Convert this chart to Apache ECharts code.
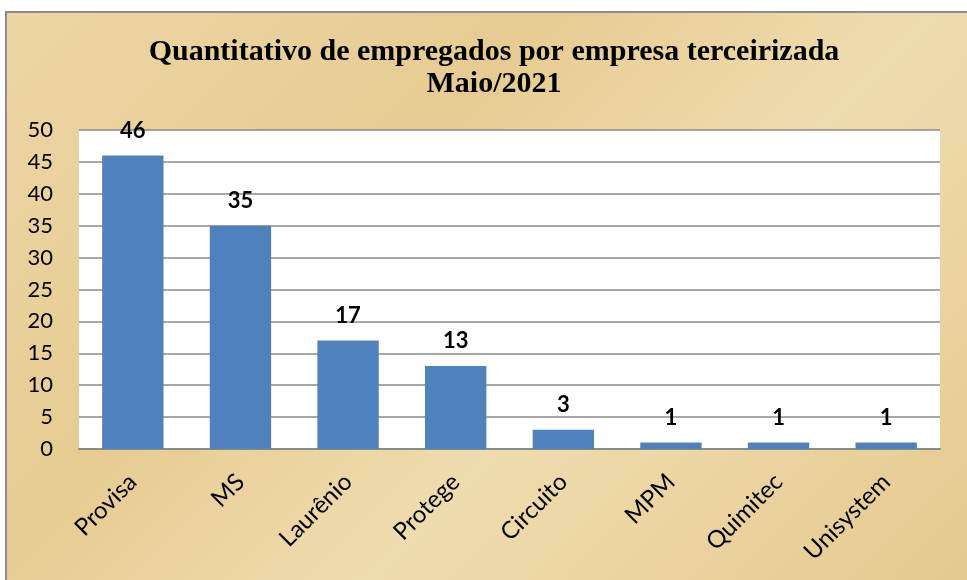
<!DOCTYPE html>
<html>
<head>
<meta charset="utf-8">
<script src="https://cdn.jsdelivr.net/npm/echarts@6/dist/echarts.min.js"></script>
<style>
  html, body { margin: 0; padding: 0; background: #ffffff; }
  #frame {
    position: absolute; left: 5px; top: 11px; width: 970px; height: 580px;
    border: 2px solid #8c8c8c; box-sizing: border-box;
    background: linear-gradient(135deg, #ecd6a4 0%, #e6cc92 35%, #efdcae 60%, #e4c98e 100%);
  }
  #chart { position: absolute; left: 0; top: 0; width: 967px; height: 580px; }
</style>
</head>
<body>
<div id="frame"></div>
<div id="chart"></div>
<script>
// dados
const empresas = ['Provisa', 'MS', 'Laurênio', 'Protege', 'Circuito', 'MPM', 'Quimitec', 'Unisystem'];
const empregados = [46, 35, 17, 13, 3, 1, 1, 1];

const chart = echarts.init(document.getElementById('chart'));

const option = {
  backgroundColor: 'transparent',
  title: {
    text: 'Quantitativo de empregados por empresa terceirizada\nMaio/2021',
    left: 489,
    top: 31,
    textAlign: 'center',
    textStyle: {
      fontFamily: 'Liberation Serif',
      fontWeight: 'bold',
      fontSize: 30,
      lineHeight: 32,
      color: '#000'
    }
  },
  grid: {
    left: 79,
    right: 27,
    top: 130,
    bottom: 131,
    show: true,
    backgroundColor: '#ffffff',
    borderWidth: 0
  },
  xAxis: {
    type: 'category',
    data: empresas,
    axisTick: { show: false },
    axisLine: { lineStyle: { color: '#8a8a8a', width: 2 } },
    axisLabel: {
      rotate: 45,
      margin: 29,
      fontFamily: 'Lato',
      fontSize: 24,
      color: '#000'
    }
  },
  yAxis: {
    type: 'value',
    min: 0,
    max: 50,
    interval: 5,
    axisLine: { show: false },
    axisTick: { show: false },
    splitLine: { lineStyle: { color: '#8a8a8a', width: 1.5 } },
    axisLabel: {
      margin: 26,
      fontFamily: 'Lato',
      fontSize: 22,
      color: '#000'
    }
  },
  series: [
    {
      type: 'bar',
      data: empregados,
      barWidth: '57%',
      itemStyle: { color: '#4f81bd' },
      label: {
        show: true,
        position: 'top',
        distance: 14,
        fontFamily: 'Lato',
        fontWeight: 'bold',
        fontSize: 22,
        color: '#000'
      }
    }
  ]
};

chart.setOption(option);
</script>
</body>
</html>
